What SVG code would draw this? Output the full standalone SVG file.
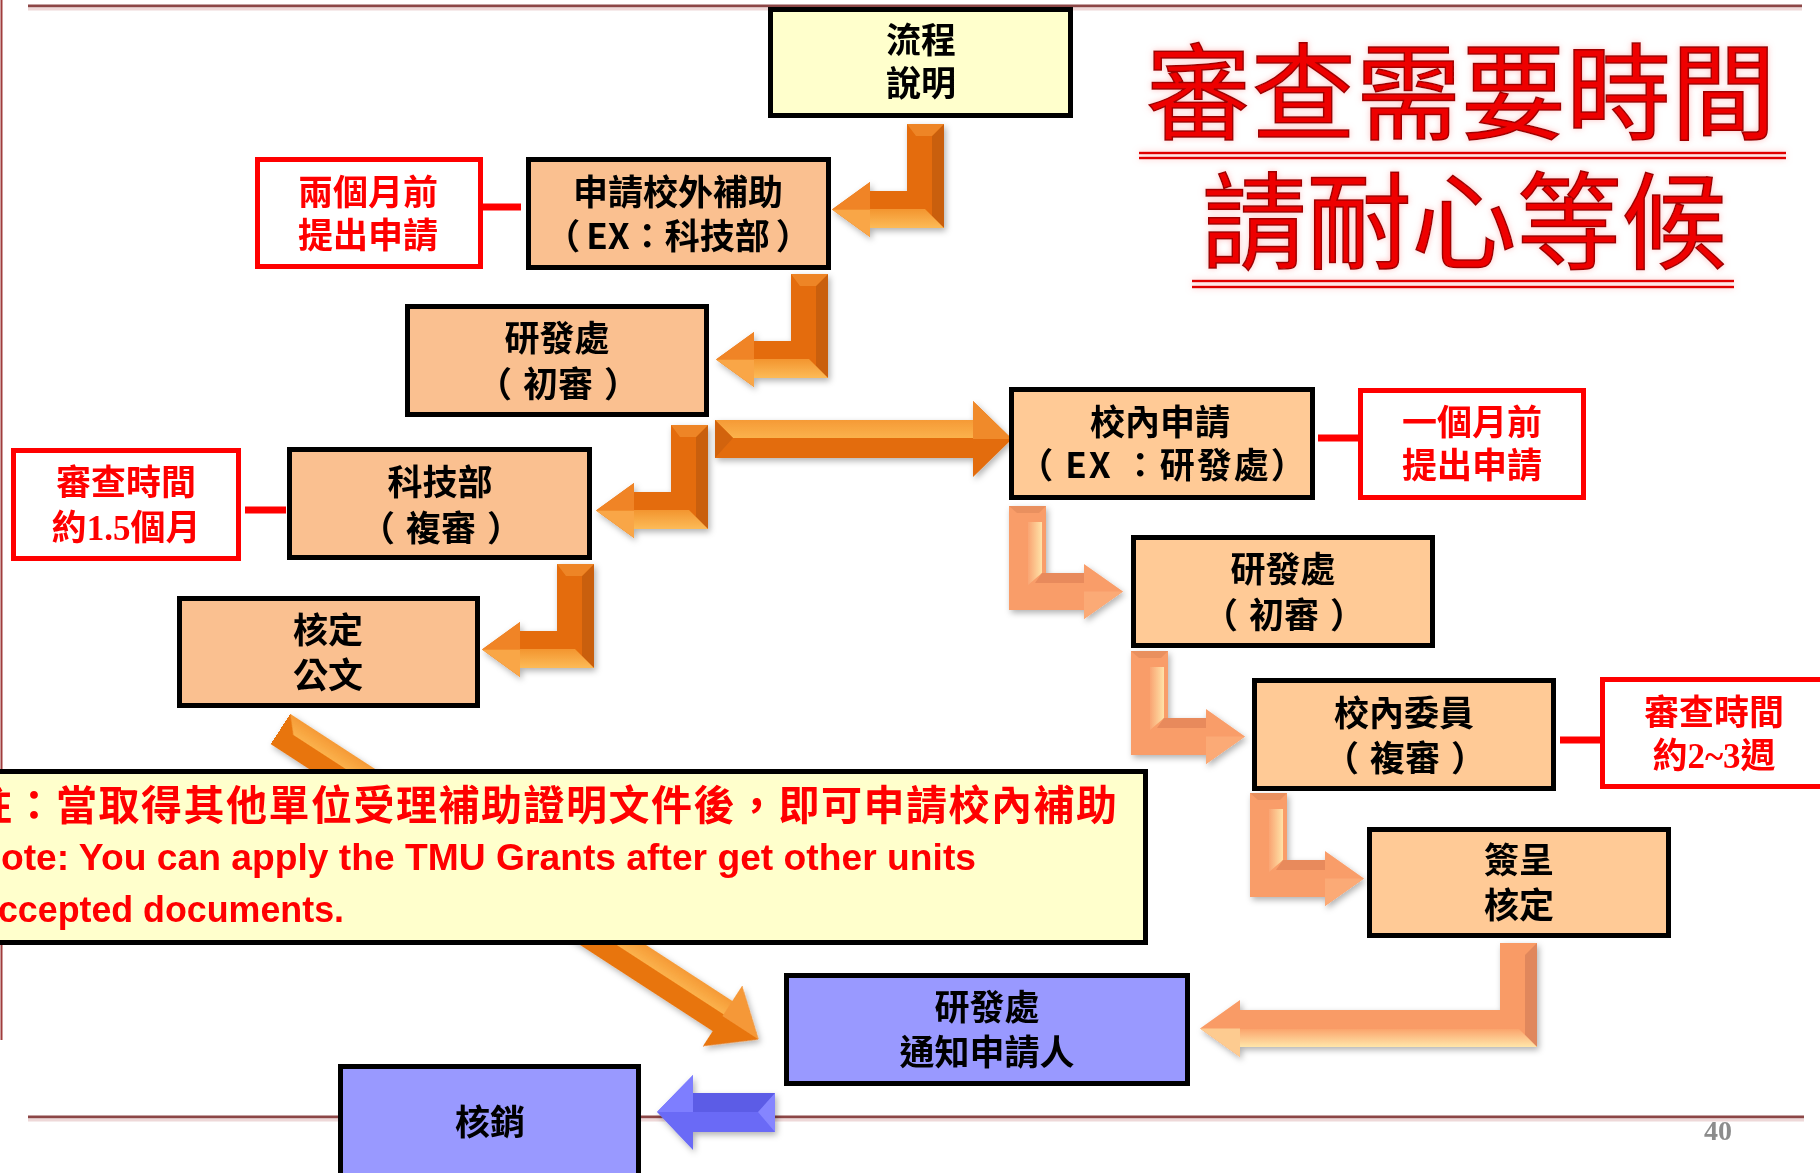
<svg xmlns="http://www.w3.org/2000/svg" width="1820" height="1173" viewBox="0 0 1820 1173">
<style>
.box{stroke:#000;stroke-width:5}
.peachL{fill:#FAC090}
.peachR{fill:#FFCA96}
.yel{fill:#FFFFCC}
.blue{fill:#9999FF}
.rbox{fill:#FFF;stroke:#FF0000;stroke-width:5}
.t{font-family:'Noto Sans CJK TC','Noto Sans CJK SC',sans-serif;font-size:35px;font-weight:bold;fill:#000;text-anchor:middle}
.rt{font-family:'Noto Sans CJK TC','Noto Sans CJK SC',sans-serif;font-size:35px;font-weight:bold;fill:#FF0000;text-anchor:middle}
.num{font-family:'Liberation Serif',serif;font-weight:bold}
.title{font-family:'Noto Sans CJK TC','Noto Sans CJK SC',sans-serif;font-size:105px;fill:#EE0000;stroke:#A00000;stroke-width:1.5;text-anchor:middle}
.rl{stroke:#FF0000;stroke-width:7}
.ul{stroke:#E00000;stroke-width:2.5}
.frame{stroke:#8C4646;stroke-width:3}
</style>
<defs>
<filter id="sh" x="-10%" y="-10%" width="130%" height="140%">
<feDropShadow dx="2" dy="3" stdDeviation="3" flood-color="#000" flood-opacity="0.3"/>
</filter>
<filter id="glow" x="-5%" y="-10%" width="110%" height="130%">
<feDropShadow dx="0" dy="0" stdDeviation="3" flood-color="#FF9999" flood-opacity="0.6"/>
</filter>
<linearGradient id="gOrB" x1="0" y1="0" x2="0" y2="1">
<stop offset="0" stop-color="#F3952F"/><stop offset="1" stop-color="#FCBB58"/>
</linearGradient>
<linearGradient id="gSalV" x1="0" y1="0" x2="1" y2="0">
<stop offset="0" stop-color="#F9A472"/><stop offset="1" stop-color="#FFE3A8"/>
</linearGradient>
<linearGradient id="gSalB" x1="0" y1="0" x2="0" y2="1">
<stop offset="0" stop-color="#FBA46C"/><stop offset="1" stop-color="#FFE6AA"/>
</linearGradient>
<linearGradient id="gOrT" x1="0" y1="0" x2="0" y2="1">
<stop offset="0" stop-color="#F59A36"/><stop offset="1" stop-color="#FBB24C"/>
</linearGradient>
<g id="aL">
<path d="M0,-104 L0,0 L-74,0 L-74,9 L-112,-18.5 L-74,-46 L-74,-37 L-37,-37 L-37,-104 Z" fill="#E46C0A"/>
<path d="M0,-104 L0,0 L-12,-12 L-12,-92 Z" fill="#C95F0D"/>
<path d="M-37,-104 L0,-104 L-12,-92 L-28,-92 Z" fill="#EE8528"/>
<path d="M-74,0 L0,0 L-12,-12 L-19,-19 L-74,-19 Z" fill="url(#gOrB)"/>
<path d="M-74,-46 L-112,-18.5 L-74,-18.5 Z" fill="#F08426"/>
<path d="M-74,9 L-112,-18.5 L-74,-18.5 Z" fill="#F9A646"/>
</g>
<g id="aR">
<path d="M0,-104 L37,-104 L37,-37 L75,-37 L75,-46 L114,-18.5 L75,9 L75,0 L0,0 Z" fill="#F99D69"/>
<path d="M19,-88 L33,-88 L33,-37 L19,-25 Z" fill="url(#gSalV)"/>
<path d="M33,-37 L75,-37 L75,-27 L26,-27 Z" fill="#E88A5B"/>
<path d="M0,-104 L37,-104 L30,-97 L8,-97 Z" fill="#E9905F"/>
<path d="M75,9 L114,-18.5 L75,-18.5 Z" fill="#FBAA76"/>
</g>
</defs>

<g id="frame">
<line class="frame" x1="28" y1="6" x2="1802" y2="6"/>
<line x1="28" y1="9" x2="1802" y2="9" stroke="#EED8D8" stroke-width="3"/>
<line class="frame" x1="28" y1="1117" x2="1804" y2="1117"/>
<line x1="28" y1="1120" x2="1804" y2="1120" stroke="#EED8D8" stroke-width="3"/>
<line x1="1.5" y1="0" x2="1.5" y2="1040" stroke="#A03C3C" stroke-width="2"/>
</g>

<g id="connectors">
<g filter="url(#sh)">
<use href="#aL" transform="translate(944,228)"/>
<use href="#aL" transform="translate(828,378)"/>
<use href="#aL" transform="translate(708,529)"/>
<use href="#aL" transform="translate(594,668)"/>
<use href="#aR" transform="translate(1009,610)"/>
<use href="#aR" transform="translate(1131,755)"/>
<use href="#aR" transform="translate(1250,897)"/>
<g>
<path d="M715,420 L973,420 L973,401 L1012,439 L973,477 L973,458 L715,458 Z" fill="#E36C09"/>
<path d="M715,420 L973,420 L973,438 L733,438 Z" fill="url(#gOrT)"/>
<path d="M715,420 L733,438 L715,458 Z" fill="#D2630A"/>
<path d="M973,401 L1012,439 L973,439 Z" fill="#F08A2A"/>
</g>
<g transform="translate(1537,1047)">
<path d="M0,-104 L0,0 L-297,0 L-297,10 L-337,-18.5 L-297,-47 L-297,-37 L-37,-37 L-37,-104 Z" fill="#F99B66"/>
<path d="M0,-104 L0,0 L-12,-12 L-12,-92 Z" fill="#E0875C"/>
<path d="M-297,0 L0,0 L-12,-12 L-18,-18 L-297,-18 Z" fill="url(#gSalB)"/>
<path d="M-297,10 L-337,-18.5 L-297,-18.5 Z" fill="#FDCB90"/>
</g>
<g transform="translate(280.5,729) rotate(33)">
<path d="M0,-18 L527,-18 L527,-36 L570,0 L527,36 L527,18 L0,18 Z" fill="#E8740F"/>
<path d="M0,-18 L527,-18 L527,-2 L14,-2 Z" fill="url(#gOrT)"/>
<path d="M527,-36 L570,0 L527,0 Z" fill="#F59838"/>
</g>
<g>
<path d="M775,1093 L693,1093 L693,1075 L657,1112 L693,1150 L693,1132 L775,1132 Z" fill="#6A6AF6"/>
<path d="M775,1093 L693,1093 L693,1112 L760,1112 Z" fill="#5B5BE6"/>
<path d="M775,1093 L775,1132 L758,1112 Z" fill="#8585FF"/>
<path d="M693,1075 L657,1112 L693,1112 Z" fill="#7E7EFF"/>
</g>
</g>
<line class="rl" x1="483" y1="207" x2="521" y2="207"/>
<line class="rl" x1="245" y1="510" x2="286" y2="510"/>
<line class="rl" x1="1318" y1="438" x2="1358" y2="438"/>
<line class="rl" x1="1560" y1="740" x2="1600" y2="740"/>
</g>

<g id="title" filter="url(#glow)">
<text class="title" x="1461" y="131">審查需要時間</text>
<line class="ul" x1="1139" y1="153" x2="1786" y2="153"/>
<line class="ul" x1="1139" y1="158" x2="1786" y2="158"/>
<text class="title" x="1464" y="260">請耐心等候</text>
<line class="ul" x1="1192" y1="281" x2="1734" y2="281"/>
<line class="ul" x1="1192" y1="287" x2="1734" y2="287"/>
</g>

<g id="flow">
<rect class="box yel" x="770.5" y="9.5" width="300" height="106"/>
<text class="t"><tspan x="921" y="53">流程</tspan><tspan x="921" y="96">說明</tspan></text>
</g>
<g id="n1">
<rect class="box peachL" x="528.5" y="159.5" width="300" height="108"/>
<text class="t"><tspan x="678" y="205">申請校外補助</tspan><tspan x="678" y="249">（<tspan dx="6">EX：科技部</tspan><tspan dx="6">）</tspan></tspan></text>
</g>
<g id="r1">
<rect class="rbox" x="257.5" y="159.5" width="223" height="107"/>
<text class="rt"><tspan x="368" y="205">兩個月前</tspan><tspan x="368" y="248">提出申請</tspan></text>
</g>
<g id="n2">
<rect class="box peachL" x="407.5" y="306.5" width="299" height="108"/>
<text class="t"><tspan x="557" y="351">研發處</tspan><tspan x="558" y="397">（<tspan dx="11">初審</tspan><tspan dx="11">）</tspan></tspan></text>
</g>
<g id="n3">
<rect class="box peachL" x="289.5" y="449.5" width="300" height="108"/>
<text class="t"><tspan x="440" y="495">科技部</tspan><tspan x="441" y="541">（<tspan dx="11">複審</tspan><tspan dx="11">）</tspan></tspan></text>
</g>
<g id="r2">
<rect class="rbox" x="13.5" y="450.5" width="225" height="108"/>
<text class="rt"><tspan x="126" y="495">審查時間</tspan><tspan x="126" y="540">約<tspan class="num">1.5</tspan>個月</tspan></text>
</g>
<g id="n4">
<rect class="box peachL" x="179.5" y="598.5" width="298" height="107"/>
<text class="t"><tspan x="328" y="643">核定</tspan><tspan x="328" y="688">公文</tspan></text>
</g>
<g id="n5">
<rect class="box peachR" x="1011.5" y="389.5" width="301" height="108"/>
<text class="t"><tspan x="1160" y="435">校內申請</tspan><tspan x="1163" y="478" style="letter-spacing:2px">（ EX ：研發處）</tspan></text>
</g>
<g id="r3">
<rect class="rbox" x="1360.5" y="390.5" width="223" height="107"/>
<text class="rt"><tspan x="1472" y="435">一個月前</tspan><tspan x="1472" y="478">提出申請</tspan></text>
</g>
<g id="n6">
<rect class="box peachR" x="1133.5" y="537.5" width="299" height="108"/>
<text class="t"><tspan x="1283" y="582">研發處</tspan><tspan x="1284" y="628">（<tspan dx="11">初審</tspan><tspan dx="11">）</tspan></tspan></text>
</g>
<g id="n7">
<rect class="box peachR" x="1254.5" y="680.5" width="299" height="108"/>
<text class="t"><tspan x="1404" y="726">校內委員</tspan><tspan x="1405" y="771">（<tspan dx="11">複審</tspan><tspan dx="11">）</tspan></tspan></text>
</g>
<g id="r4">
<rect class="rbox" x="1602.5" y="679.5" width="240" height="107"/>
<text class="rt"><tspan x="1714" y="725">審查時間</tspan><tspan x="1714" y="768">約<tspan class="num">2~3</tspan>週</tspan></text>
</g>
<g id="n8">
<rect class="box peachR" x="1369.5" y="829.5" width="299" height="106"/>
<text class="t"><tspan x="1519" y="873">簽呈</tspan><tspan x="1519" y="918">核定</tspan></text>
</g>
<g id="note">
<rect class="box yel" x="-10" y="771.5" width="1155.5" height="171"/>
<text font-weight="bold" fill="#FF0000"><tspan x="-29" y="820" textLength="1146" lengthAdjust="spacing" font-family="'Noto Sans CJK TC','Noto Sans CJK SC',sans-serif" font-size="41">註：當取得其他單位受理補助證明文件後，即可申請校內補助</tspan><tspan x="-26" y="870" textLength="1002" lengthAdjust="spacingAndGlyphs" font-family="'Liberation Sans',sans-serif" font-size="37">Note: You can apply the TMU Grants after get other units</tspan><tspan x="-22" y="922" textLength="366" lengthAdjust="spacingAndGlyphs" font-family="'Liberation Sans',sans-serif" font-size="37">accepted documents.</tspan></text>
</g>
<g id="n9">
<rect class="box blue" x="786.5" y="975.5" width="401" height="108"/>
<text class="t"><tspan x="987" y="1020">研發處</tspan><tspan x="987" y="1065">通知申請人</tspan></text>
</g>
<g id="n10">
<rect class="box blue" x="340.5" y="1066.5" width="298" height="120"/>
<text class="t" x="490" y="1135">核銷</text>
</g>
<text x="1718" y="1140" font-family="'Liberation Serif',serif" font-size="28" font-weight="bold" fill="#8C8C8C" text-anchor="middle">40</text>
</svg>
